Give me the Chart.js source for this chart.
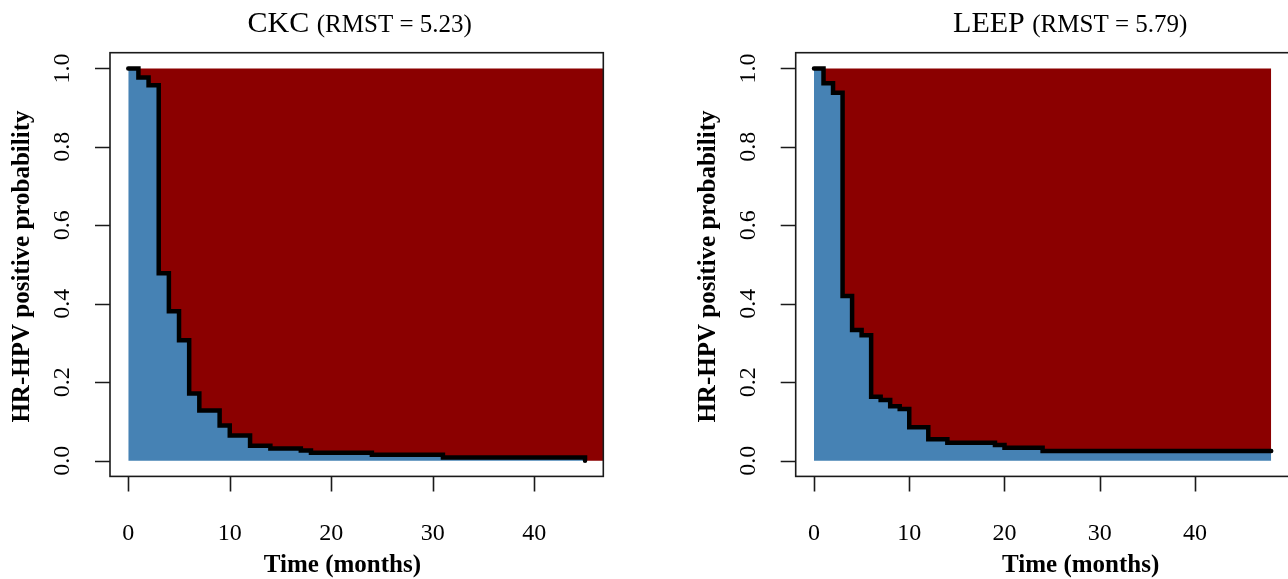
<!DOCTYPE html>
<html>
<head>
<meta charset="utf-8">
<title>HR-HPV clearance after CKC and LEEP</title>
<script src="https://cdn.jsdelivr.net/npm/chart.js@4"></script>
<style>
    html, body { margin: 0; padding: 0; background: #fff; overflow: hidden; }
    canvas { position: absolute; top: 0; }
    #ckcChart { left: 0; }
    #leepChart { left: 644px; }
</style>
</head>
<body>
<canvas id="ckcChart" width="644" height="579"></canvas>
<canvas id="leepChart" width="660" height="579"></canvas>
<script>
// Kaplan-Meier estimates: time in months, HR-HPV positive probability
const ckcTime = [0, 1, 2, 3, 4, 5, 6, 7, 9, 10, 12, 14, 17, 18, 24, 31, 45];
const ckcSurv = [1, 0.977, 0.957, 0.478, 0.381, 0.307, 0.171, 0.128, 0.09, 0.064, 0.038, 0.031, 0.026, 0.02, 0.015, 0.008, 0];
const leepTime = [0, 1, 2, 3, 4, 5, 6, 7, 8, 9, 10, 12, 14, 19, 20, 24, 48];
const leepSurv = [1, 0.962, 0.938, 0.42, 0.333, 0.32, 0.163, 0.155, 0.139, 0.132, 0.085, 0.055, 0.046, 0.04, 0.033, 0.025, 0.025];

// RMST of each arm and the truncation time shared by both
const ckcRmst = 5.23;
const leepRmst = 5.79;
const tau = 48;

const xTicks = [0, 10, 20, 30, 40];
const yTicks = [0, 0.2, 0.4, 0.6, 0.8, 1];
const yTickLabels = ['0.0', '0.2', '0.4', '0.6', '0.8', '1.0'];

const serif = '"Liberation Serif", "Times New Roman", serif';

// Frame, ticks and titles drawn in the style of base R graphics
const baseAxes = {
    id: 'baseAxes',
    afterDraw(chart, args, opts) {
        const { ctx, chartArea: a, scales: { x, y } } = chart;
        ctx.save();
        ctx.strokeStyle = '#1a1a1a';
        ctx.lineWidth = 1.6;
        ctx.strokeRect(a.left, a.top, a.right - a.left, a.bottom - a.top);

        ctx.beginPath();
        xTicks.forEach((v) => {
            const px = Math.round(x.getPixelForValue(v)) + 0.5;
            ctx.moveTo(px, a.bottom);
            ctx.lineTo(px, a.bottom + 15);
        });
        yTicks.forEach((v) => {
            const py = Math.round(y.getPixelForValue(v)) + 0.5;
            ctx.moveTo(a.left, py);
            ctx.lineTo(a.left - 15, py);
        });
        ctx.stroke();

        ctx.fillStyle = '#000';
        ctx.textAlign = 'center';
        ctx.textBaseline = 'middle';
        ctx.font = '24px ' + serif;
        xTicks.forEach((v) => ctx.fillText(String(v), x.getPixelForValue(v), a.bottom + 57));
        yTicks.forEach((v, i) => {
            ctx.save();
            ctx.translate(a.left - 47, y.getPixelForValue(v));
            ctx.rotate(-Math.PI / 2);
            ctx.fillText(yTickLabels[i], 0, 0);
            ctx.restore();
        });

        ctx.font = 'bold 25px ' + serif;
        ctx.fillText('Time (months)', x.getPixelForValue(opts.xTitleAt), a.bottom + 89);
        ctx.save();
        ctx.translate(a.left - 87, (a.top + a.bottom) / 2 + 2);
        ctx.rotate(-Math.PI / 2);
        ctx.fillText('HR-HPV positive probability', 0, 0);
        ctx.restore();

        // main title: group name, then the RMST in a smaller size
        const big = '30px ' + serif;
        const small = '25px ' + serif;
        const head = opts.group + ' ';
        const tail = '(RMST = ' + opts.rmst.toFixed(2) + ')';
        ctx.font = big;
        const w1 = ctx.measureText(head).width;
        ctx.font = small;
        const w2 = ctx.measureText(tail).width;
        const cx = x.getPixelForValue(opts.titleAt);
        let left = cx - (w1 + w2) / 2;
        ctx.textAlign = 'left';
        ctx.textBaseline = 'alphabetic';
        ctx.font = big;
        ctx.fillText(head, left, 32);
        ctx.font = small;
        ctx.fillText(tail, left + w1, 32);
        ctx.restore();
    }
};

// Function to create one panel: filled area under and above the curve plus the step line
function createPanel(canvasId, time, surv, cfg) {
    const curve = time.map((t, i) => ({ x: t, y: surv[i] }));
    const upper = curve.slice();
    if (time[time.length - 1] < tau) {
        upper.push({ x: tau, y: surv[surv.length - 1] });
    }
    const xMax = time[time.length - 1];

    const ctx = document.getElementById(canvasId).getContext('2d');
    new Chart(ctx, {
        type: 'line',
        data: {
            datasets: [
                {
                    data: curve,
                    stepped: 'before',
                    borderColor: '#000',
                    borderWidth: 4.5,
                    borderCapStyle: 'round',
                    borderJoinStyle: 'miter',
                    pointRadius: 0,
                    fill: false,
                },
                {
                    data: curve,
                    stepped: 'before',
                    borderWidth: 0,
                    pointRadius: 0,
                    backgroundColor: '#4682B4',
                    fill: 'origin',
                },
                {
                    data: upper,
                    stepped: 'before',
                    borderWidth: 0,
                    pointRadius: 0,
                    backgroundColor: '#8B0000',
                    fill: { value: 1 },
                },
            ],
        },
        options: {
            responsive: false,
            animation: false,
            layout: { padding: cfg.padding },
            scales: {
                x: { type: 'linear', display: false, min: -0.04 * xMax, max: 1.04 * xMax },
                y: { type: 'linear', display: false, min: -0.04, max: 1.04 },
            },
            plugins: {
                legend: { display: false },
                tooltip: { enabled: false },
                baseAxes: {
                    group: cfg.group,
                    rmst: cfg.rmst,
                    titleAt: cfg.titleAt,
                    xTitleAt: cfg.xTitleAt,
                },
            },
        },
        plugins: [baseAxes],
    });
}

window.addEventListener('DOMContentLoaded', () => {
    createPanel('ckcChart', ckcTime, ckcSurv, {
        group: 'CKC',
        rmst: ckcRmst,
        titleAt: 22.8,
        xTitleAt: 21.1,
        padding: { left: 110, right: 40.7, top: 52.7, bottom: 102.6 },
    });
    createPanel('leepChart', leepTime, leepSurv, {
        group: 'LEEP',
        rmst: leepRmst,
        titleAt: 26.9,
        xTitleAt: 28.0,
        padding: { left: 151.7, right: 14.5, top: 52.7, bottom: 102.6 },
    });
});
</script>
</body>
</html>
